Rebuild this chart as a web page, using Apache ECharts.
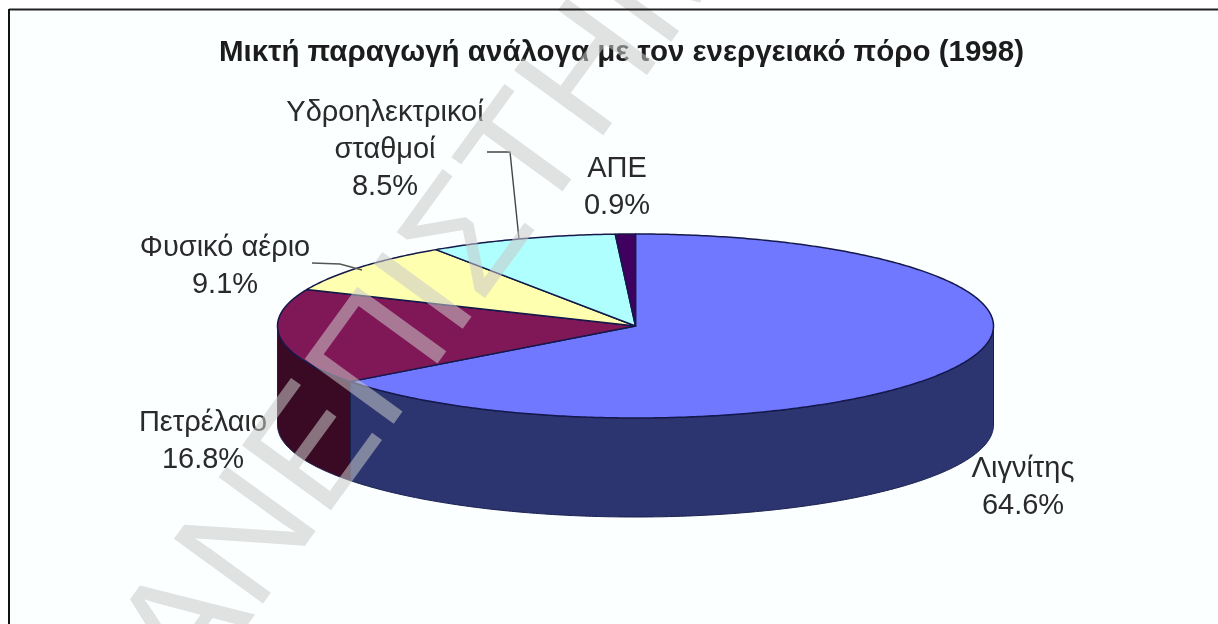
<!DOCTYPE html>
<html>
<head>
<meta charset="utf-8">
<style>html,body{margin:0;padding:0;background:#fff}#chart{width:1218px;height:624px}</style>
<script src="https://cdn.jsdelivr.net/npm/echarts@6/dist/echarts.min.js"></script>
</head>
<body>
<div id="chart"></div>
<script>
// Electricity mix by energy source, 1998
const chartTitle = 'Μικτή παραγωγή ανάλογα με τον ενεργειακό πόρο (1998)';
const categories = ['Λιγνίτης', 'Πετρέλαιο', 'Φυσικό αέριο', 'Υδροηλεκτρικοί\nσταθμοί', 'ΑΠΕ'];
const shares = [64.6, 16.8, 9.1, 8.5, 0.9];
const topColors = ['#7078ff', '#801858', '#ffffb0', '#b0ffff', '#400060'];
const wallColors = ['#2c3570', '#3a0a24', '#80805a', '#5a8080', '#200030'];
const stampText = 'ΠΑΝΕΠΙΣΤΗΜΙΟ';

// Tilted disc geometry
const disc = { cx: 635.5, cy: 326, rx: 358, ry: 92, depth: 99 };
// Label centres in page pixels, one per category
const labelSpots = [[1023, 487], [203, 441], [225, 266], [385, 150], [617, 187]];

const total = shares.reduce((a, b) => a + b, 0);
function cumulative(i) {
  return shares.slice(0, i).reduce((a, b) => a + b, 0) / total * Math.PI * 2;
}
function rimPoint(t, dy) {
  return [disc.cx + disc.rx * Math.sin(t), disc.cy - disc.ry * Math.cos(t) + (dy || 0)];
}
function rimArc(a, b, dy) {
  const n = Math.max(2, Math.ceil((b - a) / 0.01));
  const pts = [];
  for (let k = 0; k <= n; k++) pts.push(rimPoint(a + (b - a) * k / n, dy));
  return pts;
}

function renderSlice(params, api) {
  const i = params.dataIndex;
  const a = cumulative(i);
  const b = a + api.value(0) / total * Math.PI * 2;
  const children = [];
  // the wall only shows along the front half of the rim
  const wa = Math.max(a, Math.PI / 2), wb = Math.min(b, Math.PI * 1.5);
  if (wb > wa) {
    const upper = rimArc(wa, wb, 0);
    const lower = rimArc(wa, wb, disc.depth).reverse();
    children.push({
      type: 'polygon', z2: 1,
      shape: { points: upper.concat(lower) },
      style: { fill: wallColors[i], stroke: '#1a1f50', lineWidth: 1, lineJoin: 'round' }
    });
  }
  children.push({
    type: 'polygon', z2: 2,
    shape: { points: [[disc.cx, disc.cy]].concat(rimArc(a, b, 0)) },
    style: { fill: topColors[i], stroke: '#14184a', lineWidth: 1.5, lineJoin: 'round' }
  });
  children.push({
    type: 'text', z2: 5,
    style: {
      text: categories[i] + '\n' + api.value(0).toFixed(1) + '%',
      x: labelSpots[i][0], y: labelSpots[i][1],
      align: 'center', verticalAlign: 'middle',
      font: '29px "Liberation Sans"', lineHeight: 37, fill: '#2a2a2a'
    }
  });
  return { type: 'group', children };
}

const chart = echarts.init(document.getElementById('chart'), null, { renderer: 'canvas' });
chart.setOption({
  animation: false,
  backgroundColor: '#ffffff',
  title: {
    text: chartTitle, left: 214, top: 33,
    textStyle: { fontFamily: 'Liberation Sans', fontSize: 29.5, fontWeight: 'bold', color: '#1c1c1c' }
  },
  graphic: [
    { type: 'rect', z: -1, silent: true, shape: { x: 9, y: 9, width: 1209, height: 615 }, style: { fill: '#fcffff' } },
    { type: 'polyline', z: 3, silent: true, shape: { points: [[487, 152], [510, 152], [519, 239]] }, style: { fill: 'none', stroke: '#444', lineWidth: 1.4 } },
    { type: 'polyline', z: 3, silent: true, shape: { points: [[312, 263], [340, 264], [362, 270]] }, style: { fill: 'none', stroke: '#555', lineWidth: 1.4 } },
    {
      type: 'text', z: 20, silent: true, x: 89, y: 768, rotation: 54 * Math.PI / 180,
      style: { text: stampText, font: '160px "Liberation Sans"', fill: 'rgba(200,200,200,0.55)', verticalAlign: 'middle' }
    },
    { type: 'line', z: 30, silent: true, shape: { x1: 9, y1: 9.5, x2: 1218, y2: 9.5 }, style: { stroke: '#222', lineWidth: 2 } },
    { type: 'line', z: 30, silent: true, shape: { x1: 9, y1: 9, x2: 9, y2: 624 }, style: { stroke: '#111', lineWidth: 2 } }
  ],
  series: [{
    type: 'custom',
    coordinateSystem: 'none',
    renderItem: renderSlice,
    data: shares.map((v, i) => ({ name: categories[i], value: [v] })),
    z: 2
  }]
});
</script>
</body>
</html>
